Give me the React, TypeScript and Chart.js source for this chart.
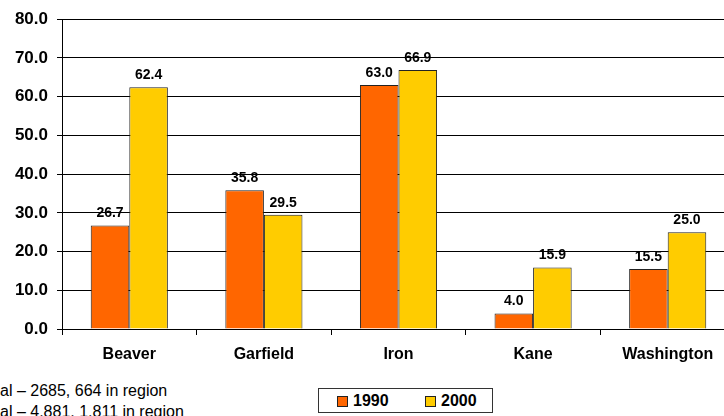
import React, { useEffect, useRef } from "react";
import { Chart, registerables } from "chart.js";

Chart.register(...registerables);

const categories = ["Beaver", "Garfield", "Iron", "Kane", "Washington"];
const values1990 = [26.7, 35.8, 63.0, 4.0, 15.5];
const values2000 = [62.4, 29.5, 66.9, 15.9, 25.0];
const seriesLabels = ["1990", "2000"];
const seriesColors = ["#FF6600", "#FFCC00"];
const yTicks = [0, 10, 20, 30, 40, 50, 60, 70, 80];
const notes = ["al – 2685, 664 in region", "al – 4,881, 1,811 in region"];

const FONT = "'Liberation Sans', Arial, sans-serif";

const valueLabels = {
  id: "valueLabels",
  afterDatasetsDraw(chart: any) {
    const ctx = chart.ctx;
    ctx.save();
    ctx.font = `bold 14px ${FONT}`;
    ctx.fillStyle = "#000";
    ctx.textAlign = "center";
    ctx.textBaseline = "bottom";
    chart.data.datasets.forEach((ds: any, i: number) => {
      const meta = chart.getDatasetMeta(i);
      meta.data.forEach((bar: any, j: number) => {
        ctx.fillText(Number(ds.data[j]).toFixed(1), bar.x, bar.y - 5);
      });
    });
    ctx.restore();
  },
};

export default function App() {
  const ref = useRef<HTMLCanvasElement>(null);
  useEffect(() => {
    if (!ref.current) return;
    const chart = new Chart(ref.current, {
      type: "bar",
      data: {
        labels: categories,
        datasets: [
          {
            label: seriesLabels[0],
            data: values1990,
            backgroundColor: seriesColors[0],
            borderColor: "#222",
            borderWidth: 1,
          },
          {
            label: seriesLabels[1],
            data: values2000,
            backgroundColor: seriesColors[1],
            borderColor: "#222",
            borderWidth: 1,
          },
        ],
      },
      plugins: [valueLabels],
      options: {
        responsive: false,
        animation: false,
        devicePixelRatio: 1,
        layout: { padding: { top: 17, right: 25, left: 0, bottom: 0 } },
        plugins: { legend: { display: false }, tooltip: { enabled: false } },
        datasets: { bar: { categoryPercentage: 0.573, barPercentage: 1 } },
        scales: {
          x: {
            offset: true,
            grid: {
              offset: true,
              drawOnChartArea: false,
              drawTicks: true,
              tickLength: 6,
              color: "#000",
            },
            border: { color: "#000", width: 1 },
            ticks: {
              color: "#000",
              font: { family: FONT, size: 16, weight: "bold" },
              padding: 10,
            },
            afterFit(scale: any) {
              scale.height = 43;
            },
          },
          y: {
            min: 0,
            max: 80,
            afterBuildTicks(scale: any) {
              scale.ticks = yTicks.map((v) => ({ value: v }));
            },
            grid: { color: "#000", lineWidth: 1, tickLength: 5 },
            border: { color: "#000", width: 1 },
            ticks: {
              color: "#000",
              padding: 9,
              font: { family: FONT, size: 17, weight: "bold" },
              callback: (v: any) => Number(v).toFixed(1),
            },
            afterFit(scale: any) {
              scale.width = 62;
            },
          },
        },
      },
    });
    return () => chart.destroy();
  }, []);

  return (
    <div
      style={{
        position: "fixed",
        left: 0,
        top: 0,
        width: 724,
        height: 416,
        overflow: "hidden",
        background: "#fff",
        fontFamily: FONT,
      }}
    >
      <canvas ref={ref} width={760} height={372} style={{ position: "absolute", left: 0, top: 0 }} />
      {notes.map((t, i) => (
        <div
          key={i}
          style={{
            position: "absolute",
            left: 0,
            top: 382 + i * 21,
            fontSize: 16,
            lineHeight: "18px",
            color: "#000",
            whiteSpace: "nowrap",
          }}
        >
          {t}
        </div>
      ))}
      <div
        style={{
          position: "absolute",
          left: 318,
          top: 388,
          width: 175,
          height: 25,
          border: "1px solid #333",
          boxSizing: "border-box",
        }}
      >
        {seriesLabels.map((lab, i) => (
          <div
            key={lab}
            style={{
              position: "absolute",
              left: 18 + i * 88,
              top: 3,
              display: "flex",
              alignItems: "center",
              fontWeight: "bold",
              fontSize: 16,
              lineHeight: "18px",
            }}
          >
            <span
              style={{
                display: "inline-block",
                width: 11,
                height: 11,
                background: seriesColors[i],
                border: "1px solid #222",
                boxSizing: "border-box",
                marginRight: 5,
              }}
            />
            {lab}
          </div>
        ))}
      </div>
    </div>
  );
}
